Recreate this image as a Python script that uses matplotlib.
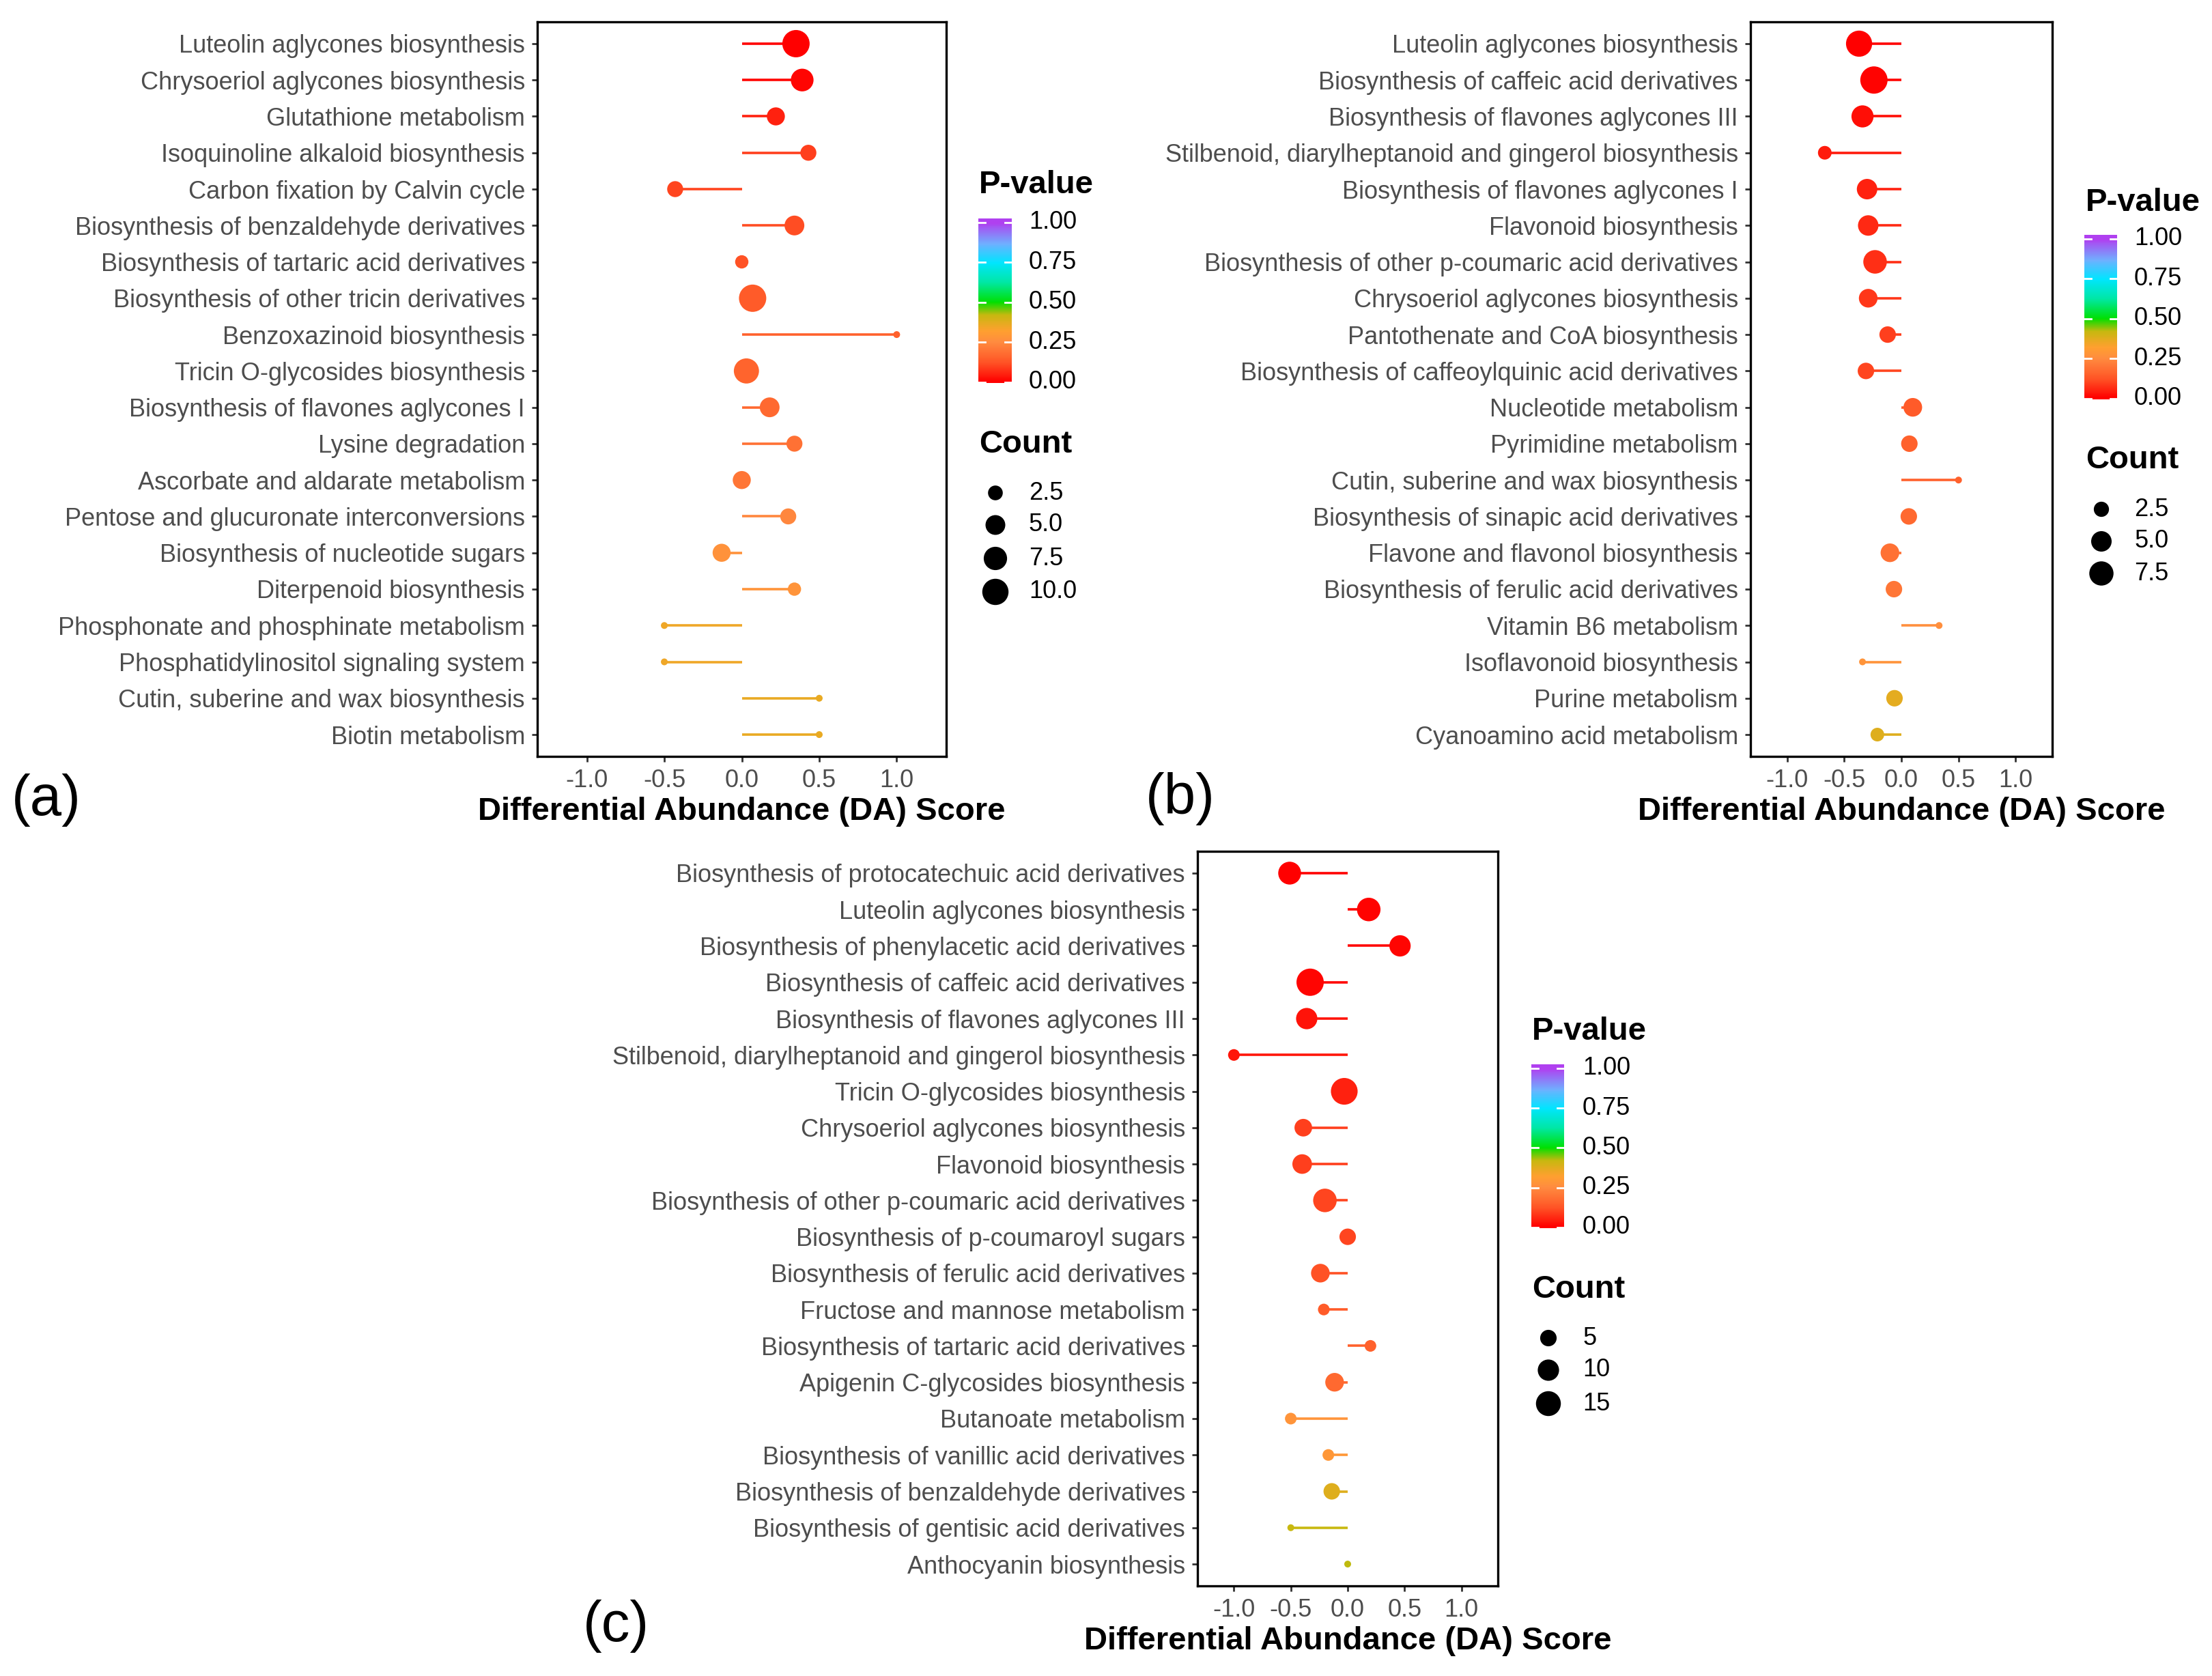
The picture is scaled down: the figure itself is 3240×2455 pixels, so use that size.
import numpy as np
import matplotlib
matplotlib.use("Agg")
import matplotlib.pyplot as plt
from matplotlib.colors import LinearSegmentedColormap

plt.rcParams['font.family'] = ['Liberation Sans', 'DejaVu Sans']

# ---------------- data ----------------
a_terms = ["Luteolin aglycones biosynthesis", "Chrysoeriol aglycones biosynthesis",
           "Glutathione metabolism", "Isoquinoline alkaloid biosynthesis",
           "Carbon fixation by Calvin cycle", "Biosynthesis of benzaldehyde derivatives",
           "Biosynthesis of tartaric acid derivatives", "Biosynthesis of other tricin derivatives",
           "Benzoxazinoid biosynthesis", "Tricin O-glycosides biosynthesis",
           "Biosynthesis of flavones aglycones I", "Lysine degradation",
           "Ascorbate and aldarate metabolism", "Pentose and glucuronate interconversions",
           "Biosynthesis of nucleotide sugars", "Diterpenoid biosynthesis",
           "Phosphonate and phosphinate metabolism", "Phosphatidylinositol signaling system",
           "Cutin, suberine and wax biosynthesis", "Biotin metabolism"]
a_da = [0.35, 0.39, 0.22, 0.43, -0.43, 0.34, 0.0, 0.07, 1.0, 0.03,
        0.18, 0.34, 0.0, 0.30, -0.13, 0.34, -0.5, -0.5, 0.5, 0.5]
a_p = [0.0, 0.01, 0.05, 0.09, 0.10, 0.11, 0.12, 0.14, 0.15, 0.16,
       0.17, 0.19, 0.20, 0.24, 0.27, 0.28, 0.35, 0.35, 0.36, 0.36]
a_count = [11, 7, 4, 3, 3, 5, 2, 11, 1, 9, 5, 3, 4, 3, 4, 2, 1, 1, 1, 1]
a_count_breaks = [2.5, 5.0, 7.5, 10.0]
a_count_labels = ["2.5", "5.0", "7.5", "10.0"]

b_terms = ["Luteolin aglycones biosynthesis", "Biosynthesis of caffeic acid derivatives",
           "Biosynthesis of flavones aglycones III",
           "Stilbenoid, diarylheptanoid and gingerol biosynthesis",
           "Biosynthesis of flavones aglycones I", "Flavonoid biosynthesis",
           "Biosynthesis of other p-coumaric acid derivatives",
           "Chrysoeriol aglycones biosynthesis", "Pantothenate and CoA biosynthesis",
           "Biosynthesis of caffeoylquinic acid derivatives", "Nucleotide metabolism",
           "Pyrimidine metabolism", "Cutin, suberine and wax biosynthesis",
           "Biosynthesis of sinapic acid derivatives", "Flavone and flavonol biosynthesis",
           "Biosynthesis of ferulic acid derivatives", "Vitamin B6 metabolism",
           "Isoflavonoid biosynthesis", "Purine metabolism", "Cyanoamino acid metabolism"]
b_da = [-0.37, -0.24, -0.34, -0.67, -0.30, -0.29, -0.23, -0.29, -0.12, -0.31,
        0.10, 0.07, 0.5, 0.065, -0.10, -0.065, 0.33, -0.34, -0.06, -0.21]
b_p = [0.0, 0.005, 0.02, 0.04, 0.05, 0.06, 0.07, 0.08, 0.09, 0.10,
       0.14, 0.15, 0.15, 0.17, 0.19, 0.20, 0.26, 0.28, 0.37, 0.38]
b_count = [9, 10, 6, 2, 5, 5, 7, 4, 3, 3, 4, 3, 1, 3, 4, 3, 1, 1, 3, 2]
b_count_breaks = [2.5, 5.0, 7.5]
b_count_labels = ["2.5", "5.0", "7.5"]

c_terms = ["Biosynthesis of protocatechuic acid derivatives", "Luteolin aglycones biosynthesis",
           "Biosynthesis of phenylacetic acid derivatives", "Biosynthesis of caffeic acid derivatives",
           "Biosynthesis of flavones aglycones III",
           "Stilbenoid, diarylheptanoid and gingerol biosynthesis",
           "Tricin O-glycosides biosynthesis", "Chrysoeriol aglycones biosynthesis",
           "Flavonoid biosynthesis", "Biosynthesis of other p-coumaric acid derivatives",
           "Biosynthesis of p-coumaroyl sugars", "Biosynthesis of ferulic acid derivatives",
           "Fructose and mannose metabolism", "Biosynthesis of tartaric acid derivatives",
           "Apigenin C-glycosides biosynthesis", "Butanoate metabolism",
           "Biosynthesis of vanillic acid derivatives", "Biosynthesis of benzaldehyde derivatives",
           "Biosynthesis of gentisic acid derivatives", "Anthocyanin biosynthesis"]
c_da = [-0.51, 0.185, 0.46, -0.33, -0.36, -1.0, -0.03, -0.39, -0.40, -0.20,
        0.0, -0.24, -0.21, 0.20, -0.115, -0.5, -0.17, -0.14, -0.5, 0.0]
c_p = [0.0, 0.005, 0.01, 0.01, 0.03, 0.035, 0.05, 0.09, 0.09, 0.10,
       0.10, 0.12, 0.14, 0.15, 0.17, 0.28, 0.29, 0.38, 0.42, 0.425]
c_count = [12, 13, 10, 19, 10, 2, 18, 6, 8, 13, 5, 7, 2, 2, 7, 2, 2, 5, 1, 1]
c_count_breaks = [5, 10, 15]
c_count_labels = ["5", "10", "15"]

p_breaks = [0.0, 0.25, 0.5, 0.75, 1.0]
p_labels = ["0.00", "0.25", "0.50", "0.75", "1.00"]
x_ticks = [-1.0, -0.5, 0.0, 0.5, 1.0]
x_ticklabels = ["-1.0", "-0.5", "0.0", "0.5", "1.0"]
xlabel = "Differential Abundance (DA) Score"

# ---------------- style ----------------
W, H = 3240, 2455
DPI = 200
cmap = LinearSegmentedColormap.from_list("pv", [
    (0.0, "#FF0000"), (0.12, "#FF5426"), (0.25, "#FF8C40"), (0.32, "#FFA030"),
    (0.42, "#C8B810"), (0.5, "#00E000"), (0.62, "#00E8A0"), (0.75, "#00E6FF"),
    (0.87, "#70B0FF"), (1.0, "#B040F0")])
GREY = "#4D4D4D"

fig = plt.figure(figsize=(W / DPI, H / DPI), dpi=DPI)


def diam_pt(c, cmin, cmax):
    c = np.asarray(c, dtype=float)
    frac = np.clip((c - cmin) / (cmax - cmin), 0, 1)
    px = 10 + 30 * np.sqrt(frac)
    return px * 72.0 / DPI


def frac_box(x0, y0, x1, y1):
    return [x0 / W, 1 - y1 / H, (x1 - x0) / W, (y1 - y0) / H]


def panel(box, terms, da, p, count):
    ax = fig.add_axes(frac_box(*box))
    n = len(terms)
    y = np.arange(n)
    cols = cmap(np.asarray(p))
    ax.hlines(y, 0, da, colors=cols, linewidth=1.3, zorder=2)
    cmin, cmax = min(count), max(count)
    ax.scatter(da, y, s=diam_pt(count, cmin, cmax) ** 2, c=p, cmap=cmap,
               vmin=0, vmax=1, linewidths=0, zorder=3)
    ax.set_ylim(n - 1 + 0.6, -0.6)
    ax.set_xlim(-1.32, 1.32)
    ax.set_yticks(y)
    ax.set_yticklabels(terms, fontsize=13, color=GREY)
    ax.set_xticks(x_ticks)
    ax.set_xticklabels(x_ticklabels, fontsize=13, color=GREY)
    ax.tick_params(axis='both', length=3, width=1.0, color="#333333", pad=3.5)
    for s in ax.spines.values():
        s.set_linewidth(1.2)
        s.set_color("black")
    ax.set_xlabel(xlabel, fontsize=17, fontweight='bold', labelpad=2)
    return (cmin, cmax)


rng_a = panel((787, 32, 1386, 1108), a_terms, a_da, a_p, a_count)
rng_b = panel((2564, 32, 3006, 1108), b_terms, b_da, b_p, b_count)
rng_c = panel((1754, 1247, 2194, 2323), c_terms, c_da, c_p, c_count)

ov = fig.add_axes([0, 0, 1, 1])
ov.set_xlim(0, W)
ov.set_ylim(H, 0)
ov.axis('off')
ov.patch.set_alpha(0)


def legend(tx, ty, bar, lab_x, count_y, dot_x, dot_ys, rng, breaks, labels):
    bx0, by0, bx1, by1 = bar
    ov.text(tx, ty, "P-value", fontsize=17, fontweight='bold', ha='left', va='center')
    cb = fig.add_axes(frac_box(bx0, by0, bx1, by1))
    lo, hi = -0.005, 1.025
    grad = np.linspace(lo, hi, 256)[:, None]
    cb.imshow(grad, aspect='auto', cmap=cmap, vmin=0, vmax=1, origin='lower',
              extent=[0, 1, lo, hi])
    cb.set_xlim(0, 1)
    cb.set_ylim(lo, hi)
    cb.axis('off')
    for b, l in zip(p_breaks, p_labels):
        cb.plot([0, 0.2], [b, b], color='white', lw=1.0)
        cb.plot([0.8, 1], [b, b], color='white', lw=1.0)
        yy = by1 - (b - lo) / (hi - lo) * (by1 - by0)
        ov.text(lab_x, yy, l, fontsize=13, ha='left', va='center')
    ov.text(tx, count_y, "Count", fontsize=17, fontweight='bold', ha='left', va='center')
    ov.scatter([dot_x] * len(breaks), dot_ys, s=diam_pt(breaks, *rng) ** 2,
               color='black', linewidths=0)
    for yy, l in zip(dot_ys, labels):
        ov.text(lab_x, yy, l, fontsize=13, ha='left', va='center')


legend(1434, 271, (1433, 320, 1482, 561), 1507, 651, 1458, [722, 769, 818, 867],
       rng_a, a_count_breaks, a_count_labels)
legend(3055, 297, (3053, 344, 3101, 585), 3126, 674, 3078, [746, 793, 840],
       rng_b, b_count_breaks, b_count_labels)
legend(2244, 1511, (2243, 1559, 2291, 1799), 2318, 1889, 2268, [1960, 2007, 2056],
       rng_c, c_count_breaks, c_count_labels)

ov.text(68, 1172, "(a)", fontsize=30, ha='center', va='center')
ov.text(1729, 1170, "(b)", fontsize=30, ha='center', va='center')
ov.text(902, 2382, "(c)", fontsize=30, ha='center', va='center')

fig.savefig("out.png", dpi=DPI)
